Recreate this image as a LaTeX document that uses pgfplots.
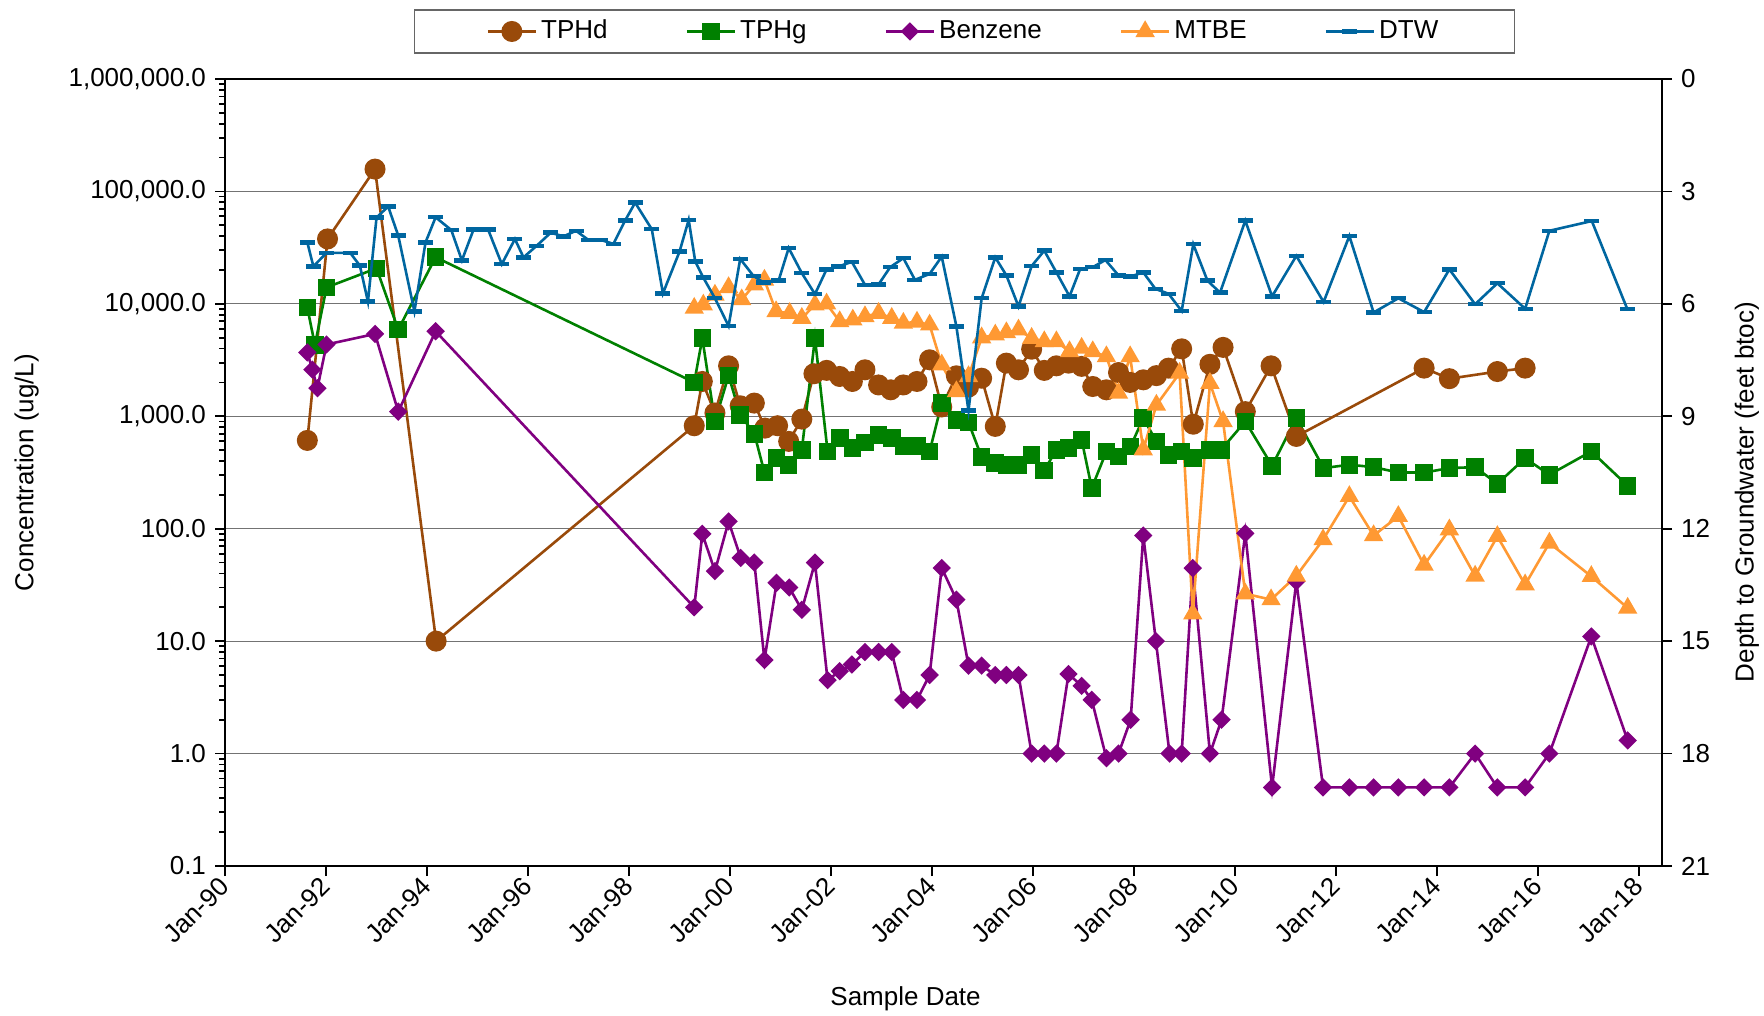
\documentclass[border=0pt]{standalone}
\usepackage{fontspec}
\setmainfont{Liberation Sans}
\usepackage{pgfplots}
\pgfplotsset{compat=1.18}

\definecolor{cTPHd}{RGB}{153,74,10}
\definecolor{cTPHg}{RGB}{0,128,0}
\definecolor{cBenz}{RGB}{128,0,128}
\definecolor{cMTBE}{RGB}{255,153,51}
\definecolor{cDTW}{RGB}{0,102,160}
\def\fsz{\fontsize{13bp}{15bp}\selectfont}

\pgfplotsset{
  base/.style={
    width=718.5bp, height=393.5bp, scale only axis,
    xmin=1990, xmax=2018.45,
    tick align=outside, major tick length=5bp,
    tick style={black, line width=0.9bp},
    axis line style={line width=1.1bp},
    /pgf/number format/assume math mode=true,
    tick label style={font=\fsz},
    label style={font=\fsz},
  },
  dtwstyle/.style={cDTW, line width=1.3bp, mark=-, mark size=3.75bp,
    mark options={line width=2.2bp, solid}},
}

\begin{document}
\fsz
\begin{tikzpicture}[font=\fsz]
\useasboundingbox (-112.5bp,-75bp) rectangle (769.5bp,433bp);
\begin{axis}[base,
  ymode=log, ymin=0.1, ymax=1e6,
  ytick={0.1,1,10,100,1000,10000,100000,1000000},
  yticklabels={0.1,1.0,10.0,100.0,{1,000.0},{10,000.0},{100,000.0},{1,000,000.0}},
  xtick={1990,1992,1994,1996,1998,2000,2002,2004,2006,2008,2010,2012,2014,2016,2018},
  xticklabels={Jan-90,Jan-92,Jan-94,Jan-96,Jan-98,Jan-00,Jan-02,Jan-04,Jan-06,Jan-08,Jan-10,Jan-12,Jan-14,Jan-16,Jan-18},
  xticklabel style={rotate=45, anchor=east, xshift=2bp, yshift=-2bp},
  xtick pos=left, ytick pos=left,
  ymajorgrids, grid style={black!55, line width=0.6bp},
  xlabel={Sample Date},
  xlabel style={at={(axis description cs:0.4736,-0.169)}, anchor=center},
  ylabel={Concentration (ug/L)},
  ylabel style={at={(axis description cs:-0.138,0.5)}, anchor=center},
  legend columns=5,
  legend cell align=left,
  legend style={at={(rel axis cs:0.5146,1.0604)}, anchor=center,
    draw=black!60, line width=0.8bp, inner xsep=36bp, inner ysep=3bp,
    font=\fsz,
    /tikz/every even column/.append style={column sep=37bp}},
  legend image code/.code={\draw[mark repeat=2,mark phase=2]
    plot coordinates {(0bp,0bp)(12bp,0bp)(24bp,0bp)};},
]
% TPHd
\addplot[cTPHd, line width=1.3bp, mark=*, mark size=4.6bp] coordinates {
(1991.63,610) (1992.03,37800) (1992.97,158000) (1994.18,10)
(1999.29,824) (1999.45,2040) (1999.70,1070) (1999.97,2810) (2000.20,1240)
(2000.48,1310) (2000.69,785) (2000.94,824) (2001.16,598) (2001.42,944)
(2001.66,2390) (2001.91,2560) (2002.17,2260) (2002.42,2040) (2002.67,2590)
(2002.94,1900) (2003.18,1720) (2003.43,1900) (2003.70,2040) (2003.95,3180)
(2004.19,1210) (2004.48,2290) (2004.72,1820) (2004.98,2180) (2005.25,813)
(2005.47,2970) (2005.71,2590) (2005.97,3950) (2006.22,2560) (2006.46,2810)
(2006.70,2970) (2006.96,2780) (2007.18,1840) (2007.45,1720) (2007.69,2450)
(2007.92,2000) (2008.18,2110) (2008.44,2300) (2008.68,2680) (2008.94,3980)
(2009.17,850) (2009.50,2900) (2009.76,4100) (2010.20,1100) (2010.71,2810)
(2011.21,662) (2013.74,2680) (2014.24,2160) (2015.19,2500) (2015.74,2680)
};
\addlegendentry{TPHd}
% TPHg
\addplot[cTPHg, line width=1.3bp, mark=square*, mark size=3.75bp] coordinates {
(1991.63,9300) (1991.78,4300) (1992.01,14000) (1993.00,20700) (1993.43,5900)
(1994.17,26000) (1999.29,2000) (1999.45,4950) (1999.70,900) (1999.97,2300)
(2000.20,1030) (2000.48,700) (2000.68,316) (2000.92,424) (2001.16,370)
(2001.42,504) (2001.68,4950) (2001.93,487) (2002.17,640) (2002.42,521)
(2002.67,586) (2002.94,685) (2003.20,640) (2003.43,547) (2003.70,547)
(2003.95,487) (2004.19,1310) (2004.48,931) (2004.72,881) (2004.98,434)
(2005.25,384) (2005.47,371) (2005.71,371) (2005.97,455) (2006.22,330)
(2006.46,504) (2006.70,521) (2006.96,618) (2007.16,230) (2007.45,487)
(2007.69,440) (2007.93,540) (2008.18,964) (2008.44,597) (2008.68,450)
(2008.94,487) (2009.16,424) (2009.50,504) (2009.72,504) (2010.20,900)
(2010.73,363) (2011.21,964) (2011.75,346) (2012.26,371) (2012.74,353)
(2013.23,316) (2013.74,316) (2014.24,346) (2014.75,353) (2015.19,251)
(2015.74,424) (2016.22,302) (2017.05,487) (2017.77,241)
};
\addlegendentry{TPHg}
% Benzene
\addplot[cBenz, line width=1.3bp, mark=square*, mark size=2.6bp,
  mark options={rotate=45}] coordinates {
(1991.63,3700) (1991.73,2600) (1991.83,1780) (1992.01,4350) (1992.97,5400)
(1993.43,1100) (1994.17,5700) (1999.29,20) (1999.45,90) (1999.70,42)
(1999.97,116) (2000.21,55) (2000.48,50) (2000.68,6.8) (2000.92,33)
(2001.17,30) (2001.42,19) (2001.68,50) (2001.93,4.5) (2002.17,5.4)
(2002.41,6.2) (2002.67,8) (2002.94,8) (2003.20,8) (2003.43,3) (2003.70,3)
(2003.95,5) (2004.19,44.7) (2004.48,23.4) (2004.72,6.06) (2004.98,6.06)
(2005.25,5) (2005.47,5) (2005.71,5) (2005.97,1) (2006.22,1) (2006.46,1)
(2006.70,5.1) (2006.96,4) (2007.16,3) (2007.45,0.91) (2007.69,1)
(2007.93,2) (2008.18,87) (2008.43,10) (2008.70,1) (2008.94,1)
(2009.16,44.6) (2009.50,1) (2009.73,2) (2010.20,91) (2010.73,0.5)
(2011.21,34) (2011.74,0.5) (2012.26,0.5) (2012.74,0.5) (2013.23,0.5)
(2013.74,0.5) (2014.24,0.5) (2014.75,1) (2015.19,0.5) (2015.74,0.5)
(2016.22,1) (2017.05,11) (2017.77,1.31)
};
\addlegendentry{Benzene}
% MTBE
\addplot[cMTBE, line width=1.3bp, mark=triangle*, mark size=4.3bp] coordinates {
(1999.29,9160) (1999.47,9790) (1999.70,12000) (1999.97,14000) (2000.23,10900)
(2000.48,14800) (2000.68,16300) (2000.91,8550) (2001.18,8260) (2001.42,7460)
(2001.68,9800) (2001.91,10000) (2002.17,6970) (2002.43,7210) (2002.67,7720)
(2002.94,8260) (2003.20,7460) (2003.43,6740) (2003.70,6900) (2003.95,6500)
(2004.19,2870) (2004.48,1660) (2004.72,2260) (2004.98,5000) (2005.25,5300)
(2005.47,5560) (2005.71,5870) (2005.97,4950) (2006.22,4620) (2006.46,4620)
(2006.72,3770) (2006.96,4040) (2007.18,3770) (2007.45,3400) (2007.69,1610)
(2007.92,3400) (2008.18,504) (2008.44,1260) (2008.90,2420) (2009.16,17.5)
(2009.50,1970) (2009.76,900) (2010.20,26.4) (2010.71,23.4) (2011.21,38)
(2011.74,80) (2012.26,194) (2012.74,87) (2013.23,129) (2013.74,47.5)
(2014.24,98) (2014.75,38) (2015.19,85.5) (2015.74,31.8) (2016.22,74.6)
(2017.05,37.7) (2017.77,19.7)
};
\addlegendentry{MTBE}
\addlegendimage{dtwstyle}
\addlegendentry{DTW}
\end{axis}

\begin{axis}[base,
  axis x line=none, axis y line*=right,
  ymin=0, ymax=21, y dir=reverse,
  ytick={0,3,6,9,12,15,18,21},
  ylabel={Depth to Groundwater (feet btoc)},
  ylabel style={at={(axis description cs:1.059,0.475)}, anchor=center},
]
\addplot[dtwstyle] coordinates {
(1991.63,4.36) (1991.75,5.0) (1992.01,4.64) (1992.48,4.64) (1992.67,4.98)
(1992.83,5.94) (1993.00,3.70) (1993.23,3.40) (1993.43,4.18) (1993.75,6.2)
(1993.97,4.36) (1994.17,3.69) (1994.48,4.03) (1994.69,4.84) (1994.92,4.02)
(1995.21,4.02) (1995.48,4.94) (1995.74,4.27) (1995.91,4.76) (1996.17,4.45)
(1996.45,4.10) (1996.70,4.20) (1996.95,4.05) (1997.20,4.30) (1997.43,4.29)
(1997.69,4.40) (1997.92,3.78) (1998.12,3.30) (1998.45,4.01) (1998.67,5.72)
(1999.00,4.60) (1999.18,3.76) (1999.31,4.87) (1999.47,5.30) (1999.70,5.85)
(1999.97,6.59) (2000.20,4.80) (2000.46,5.25) (2000.66,5.43) (2000.96,5.38)
(2001.16,4.51) (2001.42,5.18) (2001.68,5.74) (2001.91,5.08) (2002.15,5.00)
(2002.41,4.88) (2002.67,5.49) (2002.94,5.48) (2003.17,5.02) (2003.43,4.78)
(2003.66,5.36) (2003.95,5.20) (2004.19,4.74) (2004.48,6.60) (2004.72,8.85)
(2004.98,5.85) (2005.25,4.76) (2005.47,5.24) (2005.71,6.07) (2005.97,4.99)
(2006.22,4.58) (2006.46,5.16) (2006.72,5.80) (2006.93,5.07) (2007.18,5.02)
(2007.43,4.83) (2007.69,5.24) (2007.93,5.27) (2008.18,5.16) (2008.42,5.60)
(2008.68,5.73) (2008.94,6.19) (2009.17,4.41) (2009.45,5.38) (2009.70,5.70)
(2010.20,3.78) (2010.73,5.80) (2011.21,4.72) (2011.75,5.95) (2012.26,4.19)
(2012.74,6.23) (2013.23,5.85) (2013.74,6.22) (2014.24,5.08) (2014.75,6.01)
(2015.19,5.45) (2015.74,6.13) (2016.22,4.05) (2017.06,3.79) (2017.76,6.13)
};
\end{axis}
\end{tikzpicture}
\end{document}
